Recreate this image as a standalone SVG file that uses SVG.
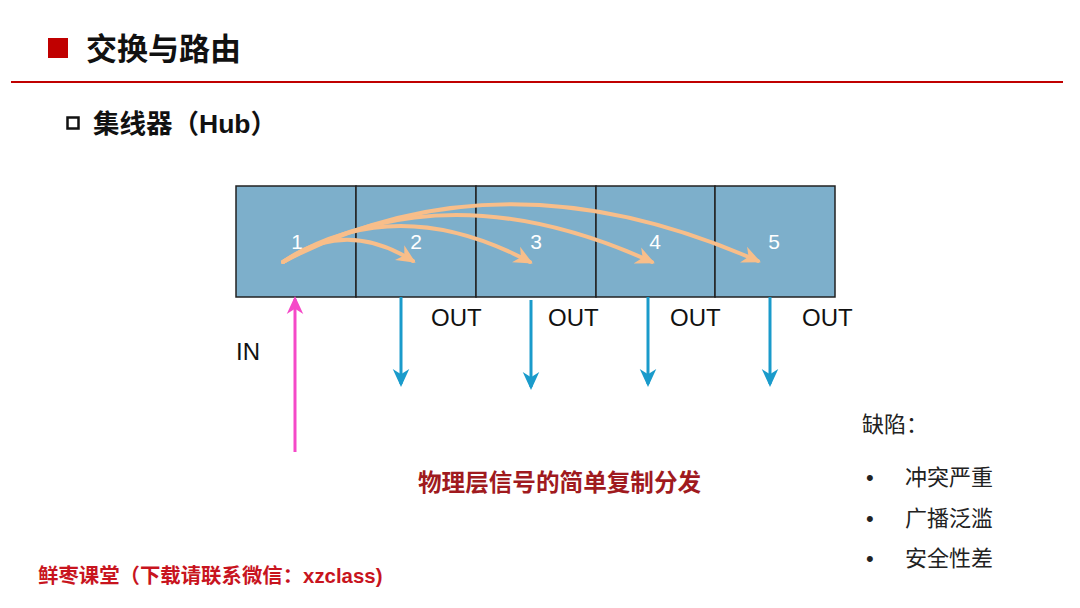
<svg xmlns="http://www.w3.org/2000/svg" width="1080" height="608" viewBox="0 0 1080 608">
<defs>
<style>
.cjk{font-family:"Liberation Sans","Noto Sans CJK SC",sans-serif}
.title{font-size:31px;font-weight:bold;fill:#111}
.sub{font-size:26.5px;font-weight:bold;fill:#111}
.cell{fill:#7DAFCB;stroke:#222;stroke-width:1.5}
.num{font-family:"Liberation Sans",sans-serif;font-size:21px;fill:#fff;text-anchor:middle}
.lbl{font-family:"Liberation Sans",sans-serif;font-size:24px;fill:#111}
.arc{fill:none;stroke:#F8BE8A;stroke-width:4;stroke-linecap:round;marker-end:url(#mo)}
.out{stroke:#1A9BCB;stroke-width:3;marker-end:url(#mb)}
.list{font-size:22px;fill:#222}
</style>
<marker id="mo" viewBox="0 0 12 12" markerWidth="19" markerHeight="19" refX="10" refY="6" orient="auto" markerUnits="userSpaceOnUse">
<path d="M0,0.5 L12,6 L0,11.5 L3.5,6 z" fill="#F8BE8A"/>
</marker>
<marker id="mb" viewBox="0 0 12 12" markerWidth="18" markerHeight="18" refX="10" refY="6" orient="auto" markerUnits="userSpaceOnUse">
<path d="M0,0.5 L12,6 L0,11.5 L3.5,6 z" fill="#1A9BCB"/>
</marker>
<marker id="mp" viewBox="0 0 12 12" markerWidth="18" markerHeight="18" refX="10" refY="6" orient="auto" markerUnits="userSpaceOnUse">
<path d="M0,0.5 L12,6 L0,11.5 L3.5,6 z" fill="#F549C8"/>
</marker>
</defs>
<rect width="1080" height="608" fill="#fff"/>
<g id="header">
<rect x="48" y="38" width="20" height="20" fill="#C00000"/>
<text class="cjk title" x="86" y="60">交换与路由</text>
<line x1="11" y1="82" x2="1063" y2="82" stroke="#C00000" stroke-width="2"/>
<rect x="67.5" y="117.5" width="11" height="11" fill="none" stroke="#111" stroke-width="2.5"/>
<text class="cjk sub" x="93" y="133">集线器（Hub）</text>
</g>
<g id="hub">
<g id="port1"><rect class="cell" x="236" y="186" width="120" height="111"/><text class="num" x="297" y="249">1</text></g>
<g id="port2"><rect class="cell" x="356" y="186" width="120" height="111"/><text class="num" x="416" y="249">2</text></g>
<g id="port3"><rect class="cell" x="476" y="186" width="120" height="111"/><text class="num" x="536" y="249">3</text></g>
<g id="port4"><rect class="cell" x="596" y="186" width="119" height="111"/><text class="num" x="655" y="249">4</text></g>
<g id="port5"><rect class="cell" x="715" y="186" width="120" height="111"/><text class="num" x="774" y="249">5</text></g>
</g>
<g id="connectors">
<path class="arc" d="M283,262 Q345,218 413,261"/>
<path class="arc" d="M283,262 Q395,190 530,262"/>
<path class="arc" d="M283,262 Q445,168 652,262"/>
<path class="arc" d="M283,262 Q500,147 758,261"/>
<line x1="295" y1="452" x2="295" y2="299" stroke="#F549C8" stroke-width="3" marker-end="url(#mp)"/>
<line class="out" x1="401" y1="297" x2="401" y2="384"/>
<line class="out" x1="531" y1="300" x2="531" y2="387"/>
<line class="out" x1="648" y1="297" x2="648" y2="384"/>
<line class="out" x1="770" y1="297" x2="770" y2="384"/>
</g>
<g id="labels">
<text class="lbl" x="431" y="326">OUT</text>
<text class="lbl" x="548" y="326">OUT</text>
<text class="lbl" x="670" y="326">OUT</text>
<text class="lbl" x="802" y="326">OUT</text>
<text class="lbl" x="236" y="360">IN</text>
<text class="cjk" x="418" y="491" font-size="23.6" font-weight="bold" fill="#A01A1E">物理层信号的简单复制分发</text>
</g>
<g id="defects">
<text class="cjk list" x="862" y="432">缺陷：</text>
<text class="cjk list" x="866" y="485">•</text>
<text class="cjk list" x="905" y="485">冲突严重</text>
<text class="cjk list" x="866" y="526">•</text>
<text class="cjk list" x="905" y="526">广播泛滥</text>
<text class="cjk list" x="866" y="566">•</text>
<text class="cjk list" x="905" y="566">安全性差</text>
</g>
<g id="footer">
<text class="cjk" x="38" y="583" font-size="20.4" font-weight="bold" fill="#C8141E">鲜枣课堂（下载请联系微信：xzclass)</text>
</g>
</svg>
